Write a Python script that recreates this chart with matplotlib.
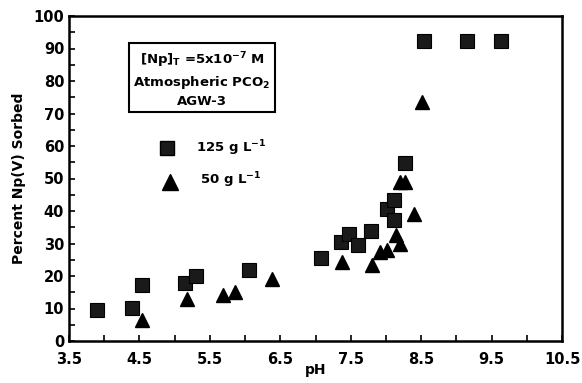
import matplotlib
matplotlib.use("Agg")
import matplotlib.pyplot as plt
from matplotlib.ticker import MultipleLocator

plt.rcParams['font.family'] = ['DejaVu Sans']
plt.rcParams['font.weight'] = 'bold'

# 125 g/L (squares)
ph_125 = [3.90, 4.40, 4.54, 5.14, 5.31, 6.05, 7.08, 7.36, 7.48, 7.60, 7.79, 8.02, 8.12, 8.11, 8.27, 8.54, 9.15, 9.64]
pct_125 = [9.6, 10.3, 17.3, 17.9, 20.1, 21.7, 25.4, 30.6, 33.0, 29.6, 34.0, 40.6, 43.3, 37.3, 54.7, 92.2, 92.2, 92.2]

# 50 g/L (triangles)
ph_50 = [4.53, 5.17, 5.68, 5.85, 6.38, 7.37, 7.80, 7.92, 8.01, 8.15, 8.20, 8.20, 8.27, 8.40, 8.51]
pct_50 = [6.6, 12.8, 14.2, 15.0, 19.1, 24.2, 23.5, 27.4, 28.0, 32.6, 30.0, 49.0, 49.0, 39.0, 73.6]

xticks = [3.5, 4.5, 5.5, 6.5, 7.5, 8.5, 9.5, 10.5]
yticks = [0, 10, 20, 30, 40, 50, 60, 70, 80, 90, 100]

fig = plt.figure(figsize=(5.82, 3.83), dpi=100)
ax = fig.add_axes([69/582, 42/383, (562-69)/582, (341-16)/383])

ax.plot(ph_125, pct_125, linestyle='none', marker='s', markersize=9.5,
        markerfacecolor='#1a1a1a', markeredgecolor='black', markeredgewidth=0.8)
ax.plot(ph_50, pct_50, linestyle='none', marker='^', markersize=10.5,
        markerfacecolor='black', markeredgecolor='black')

ax.set_xlim(3.5, 10.5)
ax.set_ylim(0, 100)
ax.set_xticks(xticks)
ax.set_xticklabels([f"{t:.1f}" for t in xticks])
ax.set_yticks(yticks)
ax.xaxis.set_minor_locator(MultipleLocator(0.5))
ax.yaxis.set_minor_locator(MultipleLocator(5))
ax.tick_params(which='both', direction='in', length=4, width=1.2, labelsize=10.5)
ax.tick_params(axis='x', pad=8)
for lab in ax.get_xticklabels() + ax.get_yticklabels():
    lab.set_fontweight('bold')
for s in ax.spines.values():
    s.set_linewidth(1.8)

ax.set_xlabel('pH', fontsize=10, fontweight='bold', labelpad=-3)
ax.set_ylabel('Percent Np(V) Sorbed', fontsize=10, fontweight='bold', labelpad=5)

# info box
ax.text(202, 383-79, '[Np]$_\\mathbf{T}$ =5x10$^{\\mathbf{-7}}$ M\nAtmospheric PCO$_\\mathbf{2}$\nAGW-3',
        transform=None, ha='center', va='center', fontsize=9.5, fontweight='bold',
        linespacing=1.35,
        bbox=dict(boxstyle='square,pad=0.35', facecolor='white', edgecolor='black', linewidth=1.5))

# legend
ax.plot([167], [383-148], transform=None, marker='s', markersize=9.5, linestyle='none',
        markerfacecolor='#1a1a1a', markeredgecolor='black', clip_on=False)
ax.text(196, 383-148, '125 g L$^{\\mathbf{-1}}$', transform=None, ha='left', va='center',
        fontsize=9.5, fontweight='bold')
ax.plot([170], [383-182], transform=None, marker='^', markersize=12, linestyle='none',
        markerfacecolor='black', markeredgecolor='black', clip_on=False)
ax.text(200, 383-180, '50 g L$^{\\mathbf{-1}}$', transform=None, ha='left', va='center',
        fontsize=9.5, fontweight='bold')

fig.savefig('out.png', dpi=100)
